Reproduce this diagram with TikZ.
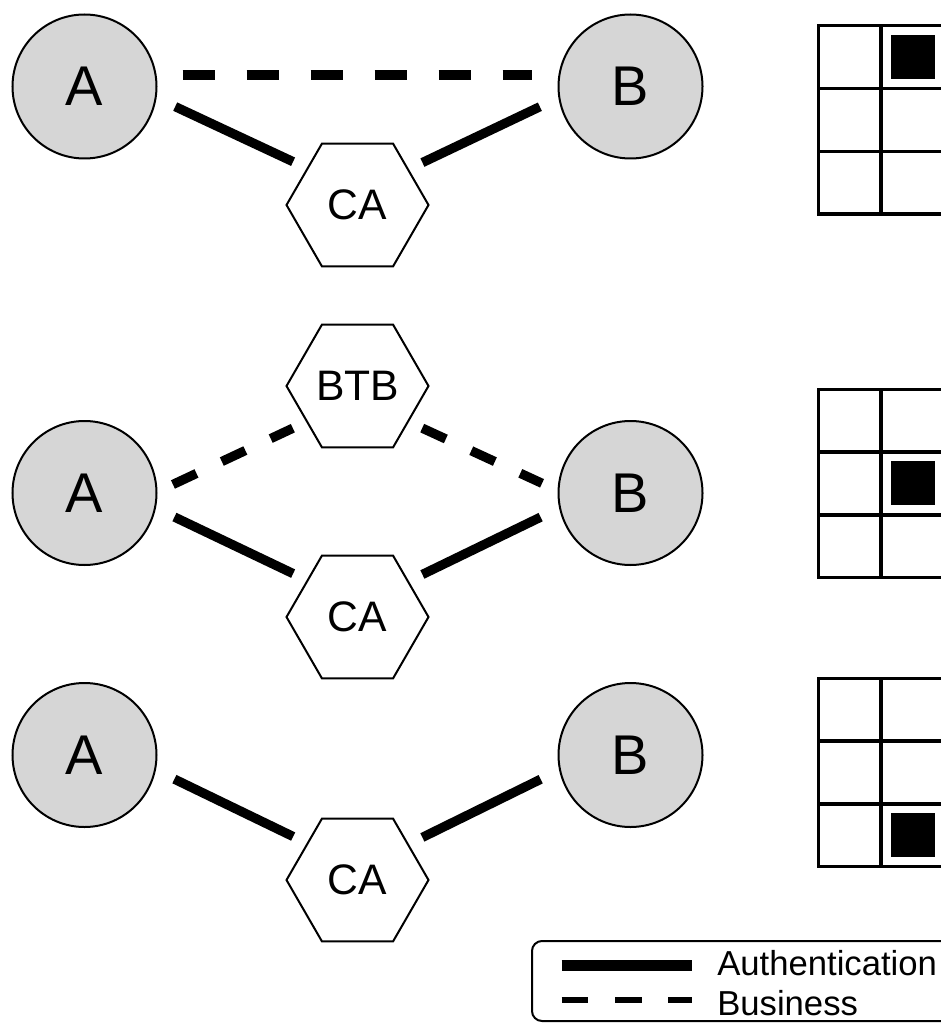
\documentclass[tikz,border=0pt]{standalone}
\usepackage{fontspec}
\setmainfont{Liberation Sans}
\usetikzlibrary{shapes.geometric}
\definecolor{partyfill}{RGB}{214,214,214}
\begin{document}
\begin{tikzpicture}[x=0.75pt,y=-0.75pt,
  party/.style={circle, draw, line width=1.5pt, fill=partyfill, minimum size=108pt, inner sep=0pt, font=\fontsize{42}{50}\selectfont},
  hexa/.style={regular polygon, regular polygon sides=6, draw, line width=1.5pt, minimum size=106.5pt, inner sep=0pt, font=\fontsize{32}{38}\selectfont},
  auth/.style={line width=7pt},
  biz/.style={line width=7pt},
  gridline/.style={line width=2.5pt},
  legtext/.style={anchor=base west, inner sep=0pt, font=\fontsize{26}{31}\selectfont}]
\clip (0,0) rectangle (941,1023);

% row 1
\node[party] (A1) at (84.5,86.5) {A};
\node[party] (B1) at (630.5,86.5) {B};
\node[hexa] (CA1) at (357.5,205) {CA};
\draw[biz, dash pattern=on 24pt off 24pt, shorten <=19.5pt, shorten >=19.5pt] (A1.9) -- (B1.171);
\draw[auth, shorten <=15.4pt, shorten >=11.25pt] (A1.-9.84) -- (CA1.144.8);
\draw[auth, shorten <=11.25pt, shorten >=15.4pt] (CA1.35.2) -- (B1.189.84);

% row 2
\node[party] (A2) at (84.5,493) {A};
\node[party] (B2) at (630.5,493) {B};
\node[hexa] (BTB) at (357.5,386) {BTB};
\node[hexa] (CA2) at (357.5,617) {CA};
\draw[biz, dash pattern=on 19.5pt off 21pt, shorten <=12.8pt, shorten >=11pt] (A2.1.5) -- (BTB.215.6);
\draw[biz, dash pattern=on 19.5pt off 21pt, shorten <=11pt, shorten >=12.8pt] (BTB.-35.6) -- (B2.178.5);
\draw[auth, shorten <=15.4pt, shorten >=11.25pt] (A2.-12) -- (CA2.144.8);
\draw[auth, shorten <=11.25pt, shorten >=15.4pt] (CA2.35.2) -- (B2.192);

% row 3
\node[party] (A3) at (84.5,755) {A};
\node[party] (B3) at (630.5,755) {B};
\node[hexa] (CA3) at (357.5,880) {CA};
\draw[auth, shorten <=15.4pt, shorten >=11.25pt] (A3.-12) -- (CA3.144.8);
\draw[auth, shorten <=11.25pt, shorten >=15.4pt] (CA3.35.2) -- (B3.192);

% grids
\foreach \gy in {25.7, 389.3, 678.3} {
  \draw[gridline] (818.3,\gy) rectangle ++(188.4,188.4);
  \foreach \i in {1,2} {
    \draw[gridline] (818.3+\i*62.8,\gy) -- ++(0,188.4);
    \draw[gridline] (818.3,\gy+\i*62.8) -- ++(188.4,0);
  }
}
\fill (890.5,35.3) rectangle ++(44,44);
\fill (890.5,461.4) rectangle ++(44,44);
\fill (890.5,813) rectangle ++(44,44);

% legend
\draw[line width=1.5pt, rounded corners=7.5pt] (532,941) rectangle (990,1021);
\coordinate (la1) at (561.7,965.5);
\coordinate (la2) at (691.7,965.5);
\draw[line width=8pt] (la1) -- (la2);
\coordinate (lb1) at (561.7,1000);
\coordinate (lb2) at (691.7,1000);
\draw[line width=5pt, dash pattern=on 20pt off 20pt] (lb1) -- (lb2);
\node[legtext] (lta) at (717,975) {Authentication};
\node[legtext] (ltb) at (717,1015) {Business};
\end{tikzpicture}
\end{document}
